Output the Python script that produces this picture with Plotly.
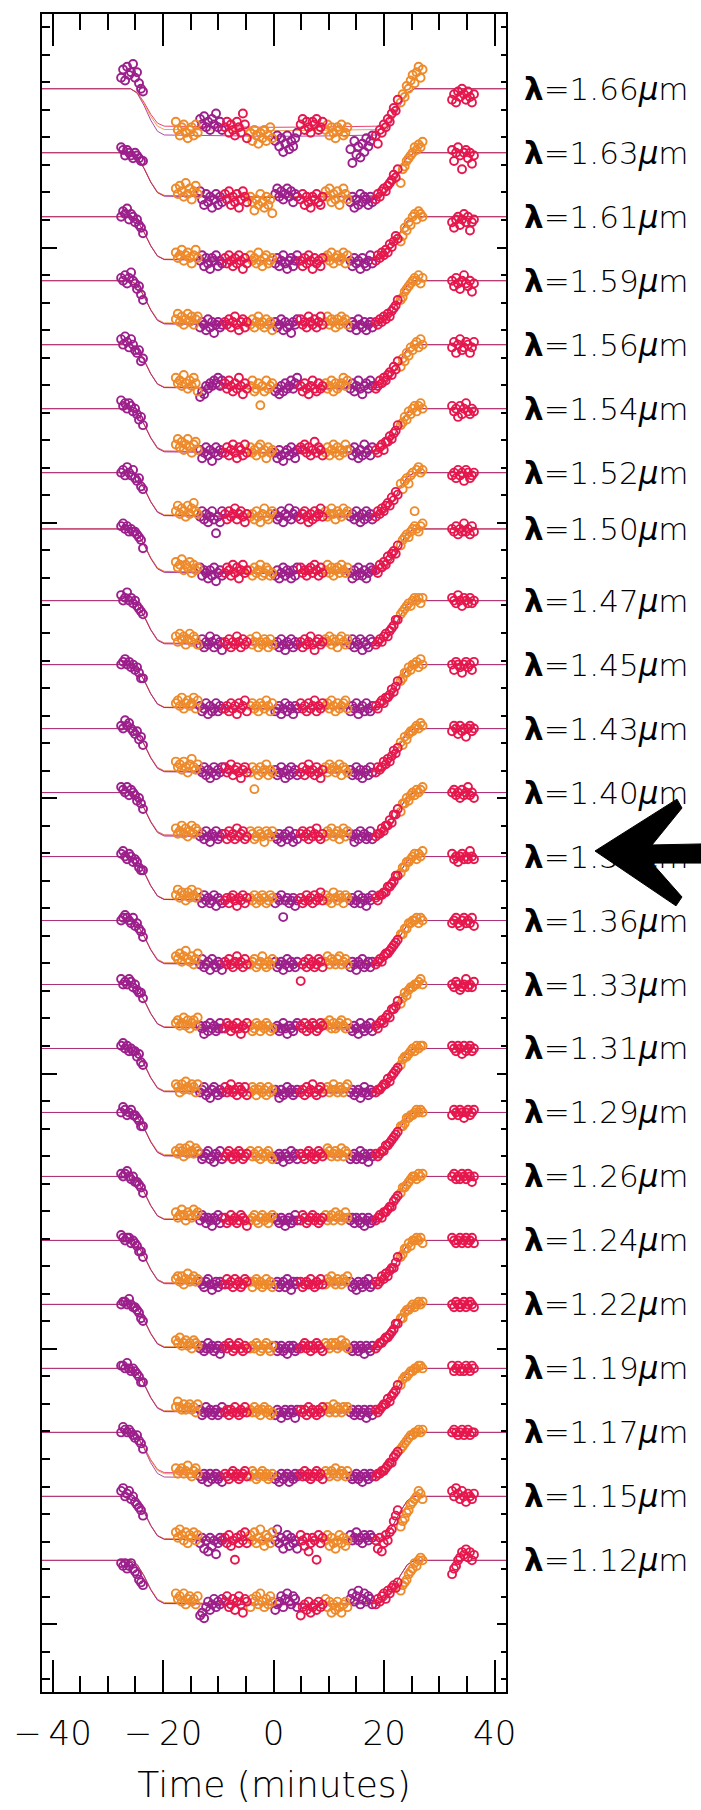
import plotly.graph_objects as go

# ---------------- data ----------------
WAVELENGTHS = [1.66, 1.63, 1.61, 1.59, 1.56, 1.54, 1.52, 1.50, 1.47, 1.45, 1.43, 1.40,
               1.38, 1.36, 1.33, 1.31, 1.29, 1.26, 1.24, 1.22, 1.19, 1.17, 1.15, 1.12]

# exposure mid-times (minutes), 12 segments x 12 exposures
TIMES = [
    -27.6, -27.24, -26.88, -26.52, -26.16, -25.8, -25.44, -25.08, -24.72, -24.36, -24.0, -23.64,
    -17.7, -17.34, -16.98, -16.62, -16.26, -15.9, -15.54, -15.18, -14.82, -14.46, -14.1, -13.74,
    -13.3, -12.94, -12.58, -12.22, -11.86, -11.5, -11.14, -10.78, -10.42, -10.06, -9.7, -9.34,
    -8.8, -8.44, -8.08, -7.72, -7.36, -7.0, -6.64, -6.28, -5.92, -5.56, -5.2, -4.84,
    -4.2, -3.84, -3.48, -3.12, -2.76, -2.4, -2.04, -1.68, -1.32, -0.96, -0.6, -0.24,
    0.3, 0.66, 1.02, 1.38, 1.74, 2.1, 2.46, 2.82, 3.18, 3.54, 3.9, 4.26,
    4.9, 5.26, 5.62, 5.98, 6.34, 6.7, 7.06, 7.42, 7.78, 8.14, 8.5, 8.86,
    9.4, 9.76, 10.12, 10.48, 10.84, 11.2, 11.56, 11.92, 12.28, 12.64, 13.0, 13.36,
    13.9, 14.26, 14.62, 14.98, 15.34, 15.7, 16.06, 16.42, 16.78, 17.14, 17.5, 17.86,
    18.5, 18.86, 19.22, 19.58, 19.94, 20.3, 20.66, 21.02, 21.38, 21.74, 22.1, 22.46,
    23.0, 23.36, 23.72, 24.08, 24.44, 24.8, 25.16, 25.52, 25.88, 26.24, 26.6, 26.96,
    32.3, 32.66, 33.02, 33.38, 33.74, 34.1, 34.46, 34.82, 35.18, 35.54, 35.9, 36.26,
]
SEGMENT_GROUP = ["purple", "orange", "purple", "crimson", "orange", "purple",
                 "crimson", "orange", "purple", "crimson", "orange", "crimson"]

# flux relative to each channel's baseline, in tenths of a minor tick
F166 = [4, 7, 3, 8, 5, 6, 9, 4, 6, 2, 0, -1,
        -12, -15, -17, -14, -13, -16, -18, -15, -14, -17, -13, -16,
        -11, -13, -10, -14, -12, -15, -11, -13, -9, -14, -12, -15,
        -14, -12, -16, -13, -15, -17, -12, -14, -16, -9, -13, -18,
        -16, -19, -15, -17, -20, -16, -18, -15, -19, -17, -14, -18,
        -19, -17, -21, -18, -23, -20, -17, -22, -19, -21, -18, -16,
        -13, -11, -15, -12, -14, -16, -12, -13, -11, -15, -14, -12,
        -15, -13, -17, -14, -16, -18, -14, -15, -13, -17, -16, -14,
        -22, -27, -19, -24, -21, -25, -20, -23, -18, -21, -19, -17,
        -17, -20, -15, -16, -13, -14, -11, -12, -9, -7, -8, -4,
        -5, -2, -3, 1, 0, 3, 5, 2, 6, 8, 4, 7,
        -4, -2, -5, -1, -3, 0, -2, -4, -1, -3, -5, -2]
F163 = [2, 1, -1, 1, 0, -1, -2, 0, -1, -2, -3, -3,
        -13, -15, -12, -14, -16, -11, -15, -13, -17, -14, -12, -15,
        -14, -17, -19, -15, -18, -16, -20, -17, -15, -19, -16, -18,
        -15, -17, -14, -19, -16, -18, -15, -20, -17, -14, -16, -18,
        -16, -18, -21, -17, -19, -15, -18, -20, -16, -19, -17, -22,
        -15, -13, -16, -14, -17, -15, -13, -16, -14, -18, -15, -16,
        -17, -15, -19, -16, -18, -20, -16, -17, -15, -18, -19, -16,
        -14, -16, -13, -18, -15, -17, -14, -19, -16, -13, -15, -17,
        -18, -16, -20, -17, -19, -15, -18, -16, -17, -19, -16, -18,
        -17, -15, -16, -14, -13, -14, -12, -11, -10, -8, -9, -6,
        -11, -6, -5, -3, -2, -1, 0, 2, 1, 3, 2, 4,
        1, -3, 0, 2, -1, -6, 0, 1, -2, 0, -4, -1]
F161 = [0, 2, 1, 3, -1, 1, 0, -2, -1, -3, -4, -6,
        -13, -15, -14, -12, -16, -14, -13, -15, -17, -14, -12, -15,
        -16, -14, -18, -15, -17, -19, -15, -16, -14, -18, -16, -17,
        -15, -17, -14, -16, -18, -15, -17, -14, -16, -19, -15, -17,
        -14, -16, -15, -17, -13, -16, -18, -15, -14, -17, -16, -15,
        -17, -15, -18, -16, -14, -17, -19, -16, -15, -18, -16, -14,
        -16, -18, -15, -17, -14, -16, -19, -15, -17, -16, -18, -15,
        -15, -14, -16, -13, -17, -15, -14, -16, -15, -13, -17, -14,
        -16, -18, -15, -17, -16, -19, -15, -17, -18, -16, -14, -17,
        -16, -14, -15, -13, -14, -12, -13, -10, -11, -9, -7, -8,
        -9, -7, -4, -5, -2, -3, 0, 1, -1, 2, 1, 0,
        -2, -4, -1, 0, -3, -1, 1, -2, 0, -5, -2, -1]
F159 = [1, 0, 2, -1, 1, 3, 0, -1, -3, -2, -5, -7,
        -14, -12, -15, -13, -16, -14, -12, -15, -13, -16, -14, -13,
        -17, -15, -16, -18, -14, -17, -15, -19, -16, -15, -17, -16,
        -15, -16, -14, -17, -15, -13, -16, -18, -15, -14, -17, -15,
        -16, -14, -17, -15, -13, -16, -15, -17, -14, -16, -15, -18,
        -15, -17, -16, -14, -18, -15, -17, -16, -19, -15, -16, -14,
        -14, -16, -15, -17, -13, -15, -16, -14, -17, -15, -13, -16,
        -15, -13, -16, -14, -15, -17, -14, -16, -13, -15, -14, -16,
        -17, -15, -16, -18, -14, -16, -17, -15, -18, -16, -15, -17,
        -15, -16, -14, -15, -13, -14, -12, -13, -11, -10, -9, -7,
        -7, -6, -4, -3, -2, -1, 0, 1, 0, 2, -1, 1,
        0, -2, 1, -1, -3, 0, 2, -1, -2, 0, -4, -1]
F156 = [2, 0, 3, 1, -1, 2, 0, -2, -3, -2, -6, -5,
        -12, -14, -13, -15, -11, -14, -16, -13, -15, -12, -14, -17,
        -19, -17, -18, -15, -16, -14, -15, -13, -14, -12, -15, -13,
        -14, -16, -13, -15, -17, -14, -16, -12, -15, -18, -14, -16,
        -15, -13, -17, -16, -14, -22, -15, -17, -13, -16, -15, -14,
        -17, -16, -18, -15, -17, -14, -16, -15, -13, -16, -14, -12,
        -15, -17, -14, -16, -18, -15, -13, -16, -17, -14, -16, -15,
        -14, -16, -15, -13, -17, -14, -16, -15, -14, -12, -15, -13,
        -16, -14, -17, -15, -13, -16, -18, -15, -14, -16, -13, -15,
        -16, -15, -13, -14, -12, -13, -11, -10, -11, -8, -9, -6,
        -8, -5, -6, -3, -4, -1, -2, 0, 1, -1, 2, 0,
        -1, 1, -3, 0, 2, -2, -1, 1, 0, -3, -1, 1]
F154 = [3, 1, 2, 0, 2, 1, -1, 0, -2, -4, -3, -6,
        -13, -11, -14, -12, -15, -13, -11, -14, -16, -13, -12, -15,
        -15, -18, -16, -14, -17, -15, -19, -16, -14, -17, -15, -16,
        -16, -14, -17, -15, -13, -16, -18, -14, -15, -17, -13, -16,
        -14, -16, -15, -17, -14, -13, -16, -15, -18, -14, -16, -15,
        -16, -18, -15, -17, -19, -16, -15, -17, -14, -16, -18, -15,
        -14, -15, -13, -16, -14, -17, -15, -12, -16, -14, -15, -17,
        -16, -14, -17, -15, -13, -16, -14, -17, -15, -16, -13, -15,
        -15, -17, -14, -16, -18, -15, -17, -13, -16, -15, -17, -14,
        -15, -16, -14, -13, -15, -12, -12, -10, -11, -9, -8, -6,
        -6, -5, -3, -4, -1, -2, 0, 1, -1, 1, 2, 0,
        1, -1, 0, -3, 1, -2, 0, 2, -1, -2, 0, -1]
F152 = [0, 1, -1, 2, 0, -1, 1, -2, -3, -2, -5, -6,
        -14, -12, -15, -13, -14, -16, -12, -15, -13, -11, -14, -15,
        -16, -14, -17, -15, -18, -16, -14, -17, -22, -16, -18, -14,
        -15, -17, -14, -16, -15, -13, -17, -15, -14, -16, -18, -15,
        -16, -15, -17, -14, -16, -18, -15, -13, -16, -17, -15, -14,
        -15, -17, -16, -14, -18, -15, -16, -13, -17, -15, -14, -16,
        -17, -15, -14, -16, -18, -15, -17, -14, -16, -15, -13, -16,
        -14, -16, -15, -13, -15, -17, -14, -15, -16, -13, -15, -14,
        -16, -15, -17, -14, -16, -18, -15, -17, -14, -16, -15, -17,
        -16, -14, -15, -13, -14, -12, -11, -12, -9, -10, -7, -8,
        -4, -6, -3, -2, -4, -1, 0, -14, 1, 2, 0, 1,
        -1, 0, -2, 1, -1, 0, -3, 1, 0, -2, -1, 0]
F150 = [1, 2, 0, 1, -1, 0, -1, -1, -2, -3, -4, -7,
        -12, -14, -13, -11, -15, -13, -14, -12, -16, -13, -15, -14,
        -14, -17, -15, -16, -18, -15, -17, -14, -19, -16, -15, -17,
        -16, -14, -15, -17, -13, -16, -14, -18, -15, -13, -16, -15,
        -15, -17, -14, -16, -15, -13, -17, -16, -14, -15, -17, -16,
        -17, -15, -18, -16, -14, -17, -15, -16, -18, -15, -17, -14,
        -14, -16, -15, -17, -15, -14, -16, -13, -15, -17, -14, -16,
        -15, -13, -16, -14, -17, -15, -14, -16, -13, -15, -16, -14,
        -16, -18, -15, -17, -14, -16, -17, -15, -18, -16, -14, -15,
        -15, -16, -13, -14, -12, -13, -10, -11, -9, -8, -9, -6,
        -6, -4, -3, -2, -3, -1, 0, 1, 0, -1, 1, 2,
        0, -1, 1, -2, 0, -1, 2, -1, 0, -2, 1, -1]
F147 = [2, 0, 1, 3, 0, 1, -1, 0, -2, -3, -4, -5,
        -13, -15, -12, -14, -13, -16, -14, -12, -15, -13, -14, -16,
        -16, -14, -17, -15, -16, -13, -15, -17, -14, -16, -15, -18,
        -15, -16, -14, -17, -15, -16, -13, -15, -17, -14, -16, -15,
        -14, -16, -15, -13, -17, -15, -16, -14, -15, -17, -14, -16,
        -16, -15, -17, -14, -16, -18, -15, -16, -14, -17, -15, -16,
        -15, -17, -14, -16, -15, -13, -16, -18, -15, -14, -16, -15,
        -14, -15, -13, -16, -14, -15, -17, -14, -13, -15, -16, -14,
        -16, -14, -17, -15, -16, -14, -18, -15, -16, -17, -14, -15,
        -16, -15, -14, -15, -13, -12, -13, -11, -10, -9, -7, -7,
        -5, -4, -3, -2, -1, -2, 0, 1, 0, 1, -1, 1,
        1, 0, -1, 2, 0, -2, 1, 0, -1, 1, -1, 0]
F145 = [0, 1, 2, 0, 1, -1, 0, -2, -1, -3, -5, -5,
        -14, -13, -15, -12, -16, -14, -13, -15, -14, -12, -16, -13,
        -15, -17, -16, -14, -18, -15, -17, -16, -14, -17, -15, -16,
        -16, -15, -17, -14, -16, -15, -18, -14, -16, -15, -13, -17,
        -15, -14, -16, -15, -17, -14, -15, -16, -13, -15, -17, -14,
        -17, -16, -15, -18, -16, -14, -17, -15, -16, -18, -15, -16,
        -14, -16, -15, -17, -14, -16, -15, -13, -17, -15, -16, -14,
        -15, -14, -16, -13, -15, -17, -14, -16, -15, -14, -13, -16,
        -17, -15, -16, -14, -18, -16, -15, -17, -14, -16, -17, -15,
        -15, -16, -14, -13, -14, -12, -12, -11, -9, -10, -8, -6,
        -6, -5, -3, -3, -1, -2, 0, 0, 1, -1, 2, 0,
        0, -2, 1, 0, -1, -3, 0, 1, -1, 0, -2, 1]
F143 = [1, 0, 3, 1, 2, 0, -1, -2, -1, -4, -3, -6,
        -12, -14, -13, -15, -12, -14, -16, -13, -11, -14, -15, -13,
        -15, -16, -14, -17, -15, -18, -16, -14, -17, -15, -16, -14,
        -14, -16, -15, -13, -17, -15, -14, -16, -18, -15, -14, -16,
        -16, -14, -22, -15, -17, -14, -16, -15, -13, -17, -15, -16,
        -15, -17, -16, -14, -16, -18, -15, -17, -14, -16, -15, -17,
        -16, -14, -17, -15, -13, -16, -15, -17, -14, -16, -18, -15,
        -14, -16, -13, -15, -14, -16, -15, -13, -17, -14, -15, -16,
        -15, -17, -16, -14, -17, -15, -18, -16, -15, -17, -14, -16,
        -16, -14, -15, -14, -12, -13, -11, -12, -10, -8, -9, -7,
        -5, -6, -3, -4, -2, -1, -1, 0, 1, 0, 2, 1,
        -1, 1, 0, -2, 1, -1, 0, -3, 0, 1, -1, 0]
F140 = [2, 1, 0, 2, -1, 1, 0, -1, -3, -2, -4, -6,
        -13, -15, -14, -12, -15, -13, -16, -14, -12, -15, -13, -14,
        -16, -15, -17, -14, -16, -18, -15, -16, -14, -17, -16, -15,
        -15, -17, -14, -16, -15, -17, -13, -16, -15, -14, -17, -16,
        -14, -15, -17, -16, -14, -15, -16, -18, -14, -15, -16, -14,
        -16, -17, -15, -18, -16, -15, -17, -14, -16, -18, -15, -17,
        -15, -14, -16, -15, -17, -14, -16, -15, -13, -16, -17, -15,
        -16, -14, -15, -13, -16, -15, -14, -17, -15, -13, -16, -14,
        -15, -16, -18, -15, -17, -14, -16, -15, -17, -16, -14, -17,
        -16, -15, -15, -13, -14, -12, -12, -10, -11, -8, -8, -6,
        -7, -4, -4, -2, -3, -1, 0, -1, 1, 0, 1, 2,
        0, 1, -1, 0, -2, 1, -1, 0, 2, -1, 0, -2]
F138 = [1, 2, 0, -1, 1, 0, -2, -1, -2, -4, -5, -5,
        -14, -12, -15, -13, -14, -16, -13, -15, -12, -14, -15, -13,
        -15, -17, -14, -16, -15, -17, -16, -14, -18, -15, -16, -17,
        -16, -15, -17, -15, -14, -16, -18, -15, -16, -14, -17, -15,
        -15, -16, -14, -17, -15, -16, -14, -15, -17, -16, -14, -15,
        -17, -15, -16, -14, -22, -16, -15, -17, -16, -15, -18, -16,
        -15, -17, -16, -14, -16, -15, -17, -14, -16, -15, -13, -16,
        -14, -16, -15, -17, -13, -15, -16, -14, -15, -17, -14, -15,
        -16, -15, -17, -16, -14, -17, -15, -16, -18, -15, -16, -14,
        -15, -16, -14, -14, -13, -13, -11, -11, -10, -9, -7, -7,
        -6, -4, -4, -2, -2, -1, 0, 1, -1, 1, 0, 2,
        1, -1, 0, -2, 0, 1, -1, 0, -1, 2, 0, -1]
F136 = [0, 1, 2, 1, 0, -1, 1, -2, -1, -3, -4, -6,
        -13, -14, -12, -15, -13, -11, -14, -15, -13, -16, -14, -12,
        -16, -14, -17, -16, -15, -18, -14, -16, -17, -15, -16, -18,
        -15, -16, -14, -16, -17, -15, -13, -16, -15, -17, -14, -16,
        -16, -15, -14, -17, -16, -15, -13, -16, -17, -15, -16, -14,
        -15, -17, -16, -15, -18, -16, -14, -17, -15, -16, -17, -15,
        -22, -16, -15, -17, -14, -16, -15, -17, -16, -14, -15, -17,
        -15, -13, -16, -14, -15, -16, -14, -13, -16, -15, -14, -16,
        -17, -15, -16, -18, -15, -16, -14, -17, -16, -15, -17, -15,
        -16, -15, -14, -15, -13, -12, -12, -11, -10, -9, -8, -7,
        -5, -5, -3, -3, -1, -1, 0, 0, 1, -1, 1, 0,
        -1, 0, 1, -1, -2, 0, 1, -1, 0, -1, 1, -2]
F133 = [2, 0, 1, 0, 2, 1, -1, 0, -2, -3, -3, -5,
        -14, -13, -15, -14, -12, -15, -13, -16, -14, -13, -15, -12,
        -15, -16, -18, -15, -17, -14, -16, -15, -17, -16, -14, -16,
        -16, -14, -15, -17, -15, -16, -14, -16, -18, -15, -16, -14,
        -15, -17, -16, -14, -15, -17, -15, -16, -14, -15, -17, -16,
        -16, -15, -17, -16, -14, -16, -18, -15, -16, -17, -15, -14,
        -15, -16, -14, -17, -15, -16, -14, -15, -17, -16, -14, -15,
        -14, -15, -13, -16, -14, -16, -15, -14, -13, -15, -16, -14,
        -16, -17, -15, -16, -18, -14, -16, -17, -15, -16, -14, -17,
        -15, -16, -14, -13, -14, -12, -11, -12, -9, -9, -8, -6,
        -7, -5, -3, -4, -2, -1, -1, 0, 0, 1, 2, 0,
        0, -1, 1, 0, -2, -1, 0, 2, -1, 0, -1, 1]
F131 = [1, 2, 0, 1, -1, 0, -1, -1, -3, -2, -5, -6,
        -13, -14, -16, -13, -15, -12, -14, -15, -13, -14, -16, -13,
        -16, -15, -14, -17, -16, -18, -15, -14, -16, -17, -15, -16,
        -14, -16, -15, -13, -16, -15, -17, -14, -15, -16, -14, -17,
        -16, -14, -15, -17, -15, -14, -16, -15, -17, -14, -16, -15,
        -15, -16, -18, -15, -17, -16, -14, -16, -15, -17, -16, -15,
        -16, -15, -17, -14, -16, -15, -13, -16, -17, -15, -14, -16,
        -15, -14, -16, -15, -13, -15, -16, -14, -15, -16, -14, -13,
        -16, -15, -17, -16, -15, -18, -16, -14, -16, -17, -15, -16,
        -16, -15, -15, -14, -13, -13, -11, -12, -10, -9, -8, -7,
        -6, -4, -3, -3, -2, -1, 0, -1, 1, 0, 1, 1,
        1, 0, -1, 1, 0, -2, 1, -1, 0, 1, -1, 0]
F129 = [0, 2, 1, -1, 0, 1, -1, -1, -2, -3, -5, -5,
        -14, -15, -13, -14, -16, -13, -15, -12, -14, -15, -13, -14,
        -15, -17, -16, -15, -14, -17, -16, -18, -15, -16, -14, -17,
        -16, -15, -14, -16, -17, -15, -16, -14, -15, -17, -16, -15,
        -14, -16, -15, -16, -14, -17, -15, -16, -15, -14, -16, -17,
        -16, -17, -15, -16, -18, -15, -16, -17, -14, -16, -15, -17,
        -15, -16, -17, -15, -14, -16, -15, -17, -16, -14, -15, -16,
        -15, -13, -14, -16, -15, -14, -16, -15, -13, -16, -14, -15,
        -17, -16, -15, -17, -16, -14, -17, -15, -16, -18, -15, -16,
        -15, -16, -15, -14, -14, -12, -12, -11, -10, -9, -8, -7,
        -5, -5, -4, -2, -2, -1, -1, 0, 1, 0, 1, 0,
        -1, 1, 0, -1, 1, 0, -2, 0, 1, -1, 0, 1]
F126 = [1, 0, 1, 2, 0, -1, 0, -2, -2, -3, -4, -6,
        -13, -15, -14, -12, -14, -16, -13, -14, -15, -12, -14, -13,
        -16, -14, -15, -17, -15, -16, -18, -15, -16, -14, -17, -15,
        -15, -17, -16, -14, -16, -15, -17, -16, -14, -15, -16, -18,
        -16, -15, -14, -16, -17, -15, -14, -16, -15, -17, -15, -14,
        -15, -16, -17, -15, -16, -18, -16, -15, -17, -16, -14, -16,
        -16, -14, -15, -17, -16, -15, -14, -16, -15, -17, -16, -15,
        -14, -16, -15, -14, -16, -13, -15, -14, -16, -15, -13, -15,
        -16, -15, -17, -15, -16, -17, -15, -18, -16, -15, -17, -16,
        -16, -15, -14, -15, -13, -13, -12, -11, -11, -9, -8, -7,
        -6, -4, -4, -3, -2, -1, 0, 0, -1, 1, 0, 1,
        0, 1, -1, 0, -1, 1, 0, -1, 1, 0, -2, 0]
F124 = [2, 1, 0, 1, 1, -1, 0, -1, -2, -4, -4, -6,
        -14, -13, -15, -13, -16, -14, -12, -15, -14, -13, -15, -14,
        -15, -16, -17, -15, -14, -16, -18, -16, -15, -17, -15, -16,
        -16, -14, -16, -15, -17, -14, -16, -15, -17, -16, -14, -15,
        -15, -17, -15, -14, -16, -15, -17, -16, -14, -16, -15, -17,
        -16, -15, -17, -16, -15, -17, -14, -16, -18, -15, -16, -15,
        -15, -17, -16, -15, -16, -14, -16, -17, -15, -16, -14, -16,
        -16, -14, -15, -13, -15, -16, -14, -15, -16, -14, -15, -13,
        -15, -17, -16, -18, -15, -16, -17, -15, -16, -14, -17, -16,
        -15, -16, -15, -13, -14, -12, -13, -11, -10, -10, -8, -6,
        -6, -5, -3, -3, -1, -2, 0, 0, 1, 0, 1, -1,
        1, 0, -1, 0, 1, -1, 0, 1, -1, 0, 1, -1]
F122 = [0, 1, 1, 0, 2, 0, -1, -1, -2, -3, -5, -6,
        -13, -14, -12, -15, -14, -13, -15, -14, -16, -13, -14, -15,
        -16, -15, -17, -16, -14, -16, -15, -17, -16, -15, -18, -16,
        -15, -16, -14, -15, -17, -16, -15, -14, -16, -17, -15, -16,
        -16, -15, -16, -14, -15, -17, -16, -15, -14, -16, -17, -15,
        -15, -17, -16, -15, -17, -16, -18, -15, -16, -15, -17, -16,
        -16, -15, -14, -16, -15, -17, -15, -16, -14, -15, -16, -17,
        -14, -15, -16, -14, -15, -14, -16, -15, -13, -15, -14, -16,
        -16, -17, -15, -16, -17, -15, -16, -18, -15, -16, -17, -15,
        -16, -15, -14, -14, -13, -12, -12, -11, -10, -9, -7, -7,
        -5, -5, -3, -2, -2, -1, 0, -1, 0, 1, 0, 1,
        0, -1, 1, 0, -1, 0, 1, -1, 0, 1, 0, -1]
F119 = [1, 1, 0, 2, 0, -1, 0, -1, -2, -3, -5, -5,
        -14, -12, -14, -15, -13, -15, -14, -13, -15, -14, -16, -13,
        -15, -17, -16, -14, -16, -15, -17, -16, -15, -17, -16, -14,
        -16, -15, -17, -15, -16, -14, -16, -17, -15, -16, -14, -16,
        -15, -16, -14, -16, -15, -17, -15, -14, -16, -15, -17, -16,
        -17, -15, -16, -18, -16, -15, -17, -16, -15, -16, -18, -15,
        -15, -16, -15, -17, -14, -16, -15, -16, -17, -15, -16, -14,
        -15, -14, -16, -15, -13, -16, -14, -15, -16, -14, -15, -14,
        -16, -15, -17, -16, -15, -17, -16, -15, -18, -16, -15, -17,
        -15, -16, -15, -14, -13, -13, -11, -12, -10, -9, -8, -6,
        -6, -4, -3, -3, -2, -1, -1, 0, 0, 1, 1, 0,
        1, -1, 0, 1, -1, 0, -1, 1, 0, -1, 1, 0]
F117 = [0, 2, 1, 0, 1, 0, -1, -2, -1, -3, -4, -6,
        -13, -15, -14, -13, -15, -14, -12, -15, -16, -14, -13, -15,
        -16, -17, -15, -16, -18, -15, -17, -16, -15, -17, -16, -18,
        -15, -16, -17, -15, -14, -16, -15, -17, -16, -15, -14, -16,
        -16, -14, -15, -17, -16, -15, -14, -16, -15, -17, -16, -15,
        -17, -16, -18, -15, -17, -16, -15, -18, -16, -17, -15, -16,
        -15, -16, -14, -16, -15, -17, -16, -15, -14, -16, -15, -17,
        -14, -15, -16, -14, -15, -13, -16, -15, -14, -15, -16, -14,
        -16, -17, -16, -15, -17, -16, -18, -15, -16, -17, -15, -16,
        -16, -15, -15, -14, -14, -13, -12, -11, -11, -9, -8, -7,
        -6, -5, -4, -3, -2, -1, -1, 0, 0, 1, 0, 1,
        0, 1, 0, -1, 0, 1, -1, 0, 1, -1, 0, 0]
F115 = [2, 3, 0, 1, 2, -1, 0, -2, -3, -4, -5, -7,
        -13, -15, -12, -14, -16, -13, -17, -14, -15, -13, -16, -14,
        -17, -15, -19, -16, -20, -15, -18, -16, -21, -17, -15, -16,
        -15, -17, -14, -18, -16, -23, -15, -17, -14, -16, -13, -17,
        -14, -16, -13, -17, -15, -12, -16, -18, -14, -15, -17, -13,
        -16, -12, -17, -15, -19, -16, -14, -18, -15, -17, -16, -19,
        -14, -16, -18, -15, -20, -17, -15, -16, -23, -14, -17, -15,
        -16, -14, -18, -15, -17, -19, -16, -14, -17, -15, -18, -16,
        -14, -16, -15, -13, -16, -15, -17, -14, -15, -16, -14, -15,
        -16, -19, -15, -20, -17, -14, -16, -13, -12, -9, -7, -5,
        -11, -9, -8, -6, -5, -3, -2, -1, 0, 2, 1, -1,
        2, 0, 3, 1, -1, 2, 0, -2, 1, 0, -1, 1]
F112 = [-1, -2, -1, -3, -2, -1, -3, -4, -5, -7, -8, -9,
        -12, -14, -13, -15, -12, -16, -14, -13, -15, -14, -16, -13,
        -20, -19, -21, -17, -15, -18, -16, -14, -17, -15, -16, -14,
        -15, -13, -17, -16, -14, -18, -15, -13, -16, -19, -14, -15,
        -17, -14, -15, -13, -16, -12, -15, -17, -14, -16, -13, -15,
        -18, -16, -15, -13, -17, -14, -12, -15, -16, -13, -14, -17,
        -20, -17, -16, -18, -15, -19, -17, -16, -18, -15, -17, -16,
        -14, -17, -15, -19, -16, -18, -15, -17, -19, -16, -15, -17,
        -14, -12, -15, -13, -11, -16, -14, -12, -15, -13, -14, -16,
        -16, -14, -15, -13, -12, -14, -11, -12, -10, -9, -10, -8,
        -11, -9, -8, -7, -5, -4, -3, -1, -2, 0, 1, 0,
        -5, -3, -2, 0, 1, 3, 2, 4, 1, 3, 0, 2]

CHANNEL_FLUX = [F166, F163, F161, F159, F156, F154, F152, F150, F147, F145, F143, F140,
                F138, F136, F133, F131, F129, F126, F124, F122, F119, F117, F115, F112]

# fitted-model transit shape (knots) and per-channel depths (tenths)
MODEL_T = [-41.92, -25.9, -24.68, -23.46, -22.24, -21.02, -19.8, -10.0, 0.0, 10.0,
           19.0, 20.3, 21.6, 22.9, 24.2, 25.5, 42.06]
MODEL_FRAC = [0, 0, 0.10, 0.36, 0.68, 0.92, 1.0, 1.02, 1.03, 1.02,
              1.0, 0.92, 0.68, 0.36, 0.10, 0, 0]
DEPTH_PURPLE = [16.8, 15.8, 15.6, 15.7, 15.6, 15.7, 15.6, 15.8, 15.7, 15.6, 15.7, 15.8,
                15.6, 15.7, 15.6, 15.7, 15.8, 15.6, 15.7, 15.6, 15.7, 16.2, 15.6, 15.7]
DEPTH_ORANGE = [14.8, 15.5, 15.4, 15.3, 15.4, 15.5, 15.3, 15.4, 15.5, 15.4, 15.3, 15.5,
                15.4, 15.3, 15.5, 15.4, 15.3, 15.4, 15.5, 15.3, 15.4, 15.0, 15.4, 15.3]
DEPTH_CRIMSON = [13.6, 15.6, 15.5, 15.6, 15.5, 15.4, 15.6, 15.5, 15.4, 15.6, 15.5, 15.4,
                 15.6, 15.5, 15.4, 15.5, 15.6, 15.5, 15.4, 15.6, 15.5, 14.6, 15.5, 15.6]

# ---------------- styling / layout ----------------
COLOURS = {"purple": "#9C1F8C", "orange": "#EE8A2A", "crimson": "#E6174D"}
DEPTHS = {"purple": DEPTH_PURPLE, "orange": DEPTH_ORANGE, "crimson": DEPTH_CRIMSON}
SPACING = 2.324          # vertical offset between channels (minor-tick units)
SHIFT = {1.50: 0.28}     # extra offset of the 1.50 um channel
PER_SEG = 12
FONT = "DejaVu Sans"

baselines = [-k * SPACING + SHIFT.get(w, 0.0) for k, w in enumerate(WAVELENGTHS)]

fig = go.Figure()

# model curves (purple drawn last so shared baselines look magenta)
for grp in ["crimson", "orange", "purple"]:
    xs, ys = [], []
    for k, base in enumerate(baselines):
        d = DEPTHS[grp][k] / 10.0
        xs += MODEL_T + [None]
        ys += [base - d * f for f in MODEL_FRAC] + [None]
    fig.add_trace(go.Scatter(x=xs, y=ys, mode="lines", opacity=0.8,
                             line=dict(color=COLOURS[grp], width=1),
                             showlegend=False, hoverinfo="skip"))

# data points
for grp in ["purple", "orange", "crimson"]:
    xs, ys = [], []
    for k, base in enumerate(baselines):
        for i, v in enumerate(CHANNEL_FLUX[k]):
            if SEGMENT_GROUP[i // PER_SEG] == grp:
                xs.append(TIMES[i])
                ys.append(base + v / 10.0)
    fig.add_trace(go.Scatter(x=xs, y=ys, mode="markers",
                             marker=dict(symbol="circle-open", size=8, color=COLOURS[grp],
                                         line=dict(width=1.9)),
                             showlegend=False, hoverinfo="skip"))

# anchor trace for right-hand tick axis
fig.add_trace(go.Scatter(x=[0], y=[0], yaxis="y2", mode="markers",
                         marker=dict(opacity=0), showlegend=False, hoverinfo="skip"))

YR = [-58.233, 2.714]
fig.update_layout(
    width=701, height=1810,
    margin=dict(l=42, r=195, t=12, b=118),
    paper_bgcolor="white", plot_bgcolor="white",
    font=dict(family=FONT, color="black"),
    xaxis=dict(range=[-41.92, 42.06], tickmode="array",
               tickvals=[-40, -20, 0, 20, 40],
               ticktext=["\u2212\u200940", "\u2212\u200920", "0", "20", "40"],
               ticks="inside", ticklen=32, tickwidth=2, tickcolor="black",
               minor=dict(tickmode="linear", tick0=0, dtick=5, ticks="inside",
                          ticklen=16, tickwidth=2, tickcolor="black"),
               showline=True, linewidth=2, linecolor="black", mirror="ticks",
               showgrid=False, zeroline=False, ticklabelstandoff=10,
               tickfont=dict(size=34, family=FONT, weight=300),
               title=dict(text="Time (minutes)", font=dict(size=36, family=FONT, weight=300),
                          standoff=20)),
    yaxis=dict(range=YR, tickmode="linear", tick0=-5.769, dtick=10,
               ticks="inside", ticklen=15, tickwidth=2, tickcolor="black",
               minor=dict(tickmode="linear", tick0=-5.769, dtick=1, ticks="inside",
                          ticklen=8, tickwidth=2, tickcolor="black"),
               showticklabels=False, showline=True, linewidth=2, linecolor="black",
               mirror=True, showgrid=False, zeroline=False),
    yaxis2=dict(range=YR, overlaying="y", side="right", tickmode="linear",
                tick0=-5.769, dtick=10, ticks="inside", ticklen=9, tickwidth=2,
                tickcolor="black",
                minor=dict(tickmode="linear", tick0=-5.769, dtick=1, ticks="inside",
                           ticklen=5, tickwidth=2, tickcolor="black"),
                showticklabels=False, showline=False, showgrid=False, zeroline=False),
)

# wavelength labels
for w, base in zip(WAVELENGTHS, baselines):
    fig.add_annotation(x=1.034, xref="paper", y=base, yref="y",
                       text=f"<b>\u03bb</b>=1.{int(round(w * 100)) - 100:02d}<i>\u03bc</i>m",
                       showarrow=False, xanchor="left", yanchor="middle",
                       font=dict(size=31, family=FONT, color="black", weight=300))

# hand-drawn arrow pointing at the 1.38 um channel label (paper coordinates)
def px(x, y):
    return (x - 42) / 464.0, (1692 - y) / 1680.0

ARROW = [(595, 850), (677, 798), (682, 807), (652, 844), (701, 843), (701, 862),
         (652, 862), (682, 896), (676, 905)]
pts = [px(x, y) for x, y in ARROW]
path = "M " + " L ".join(f"{a:.4f},{b:.4f}" for a, b in pts) + " Z"
fig.add_shape(type="path", path=path, xref="paper", yref="paper",
              fillcolor="black", line=dict(color="black", width=1), layer="above")

fig.write_html("out.html", config={"displayModeBar": False})
with open("out.html", "r", encoding="utf-8") as fh:
    html = fh.read()
html = html.replace("<body>", "<body style=\"margin:0\">", 1)
with open("out.html", "w", encoding="utf-8") as fh:
    fh.write(html)
